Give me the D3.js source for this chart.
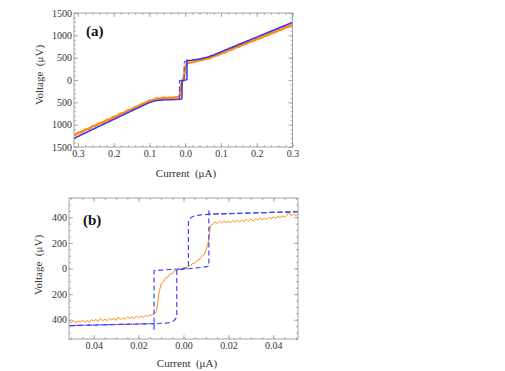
<!DOCTYPE html>
<html><head><meta charset="utf-8">
<script src="https://cdn.jsdelivr.net/npm/d3@7"></script>
<style>body{margin:0;background:#fff}svg{display:block}text{font-family:"Liberation Serif","Times New Roman",serif}</style>
</head><body>
<script>
// ---------- Panel (a) data ----------
const aXTicks = [-0.3,-0.2,-0.1,0,0.1,0.2,0.3];
const aXLabels = ["0.3","0.2","0.1","0.0","0.1","0.2","0.3"];
const aYTicks = [-1500,-1000,-500,0,500,1000,1500];
const aYLabels = ["1500","1000","500","0","500","1000","1500"];

// orange measured curve (a): outer left, inner, outer right  [current µA, voltage µV]
const aOrangeLeftI = [-0.31,-0.30,-0.29,-0.28,-0.27,-0.26,-0.25,-0.24,-0.23,-0.22,-0.21,-0.20,-0.19,-0.18,-0.17,-0.16,-0.15,-0.14,-0.13,-0.12,-0.11,-0.10,-0.09,-0.08,-0.07,-0.06];
const aOrangeLeftV = [-1238,-1188,-1166,-1115,-1094,-1043,-1021,-970,-949,-898,-877,-826,-804,-753,-731,-681,-659,-608,-586,-536,-513,-463,-449,-416,-419,-398];
const aOrangeInnerI = [-0.05,-0.045,-0.04,-0.035,-0.03,-0.025,-0.02,-0.017,-0.015,-0.013,-0.011,-0.009,-0.007,-0.005,-0.003,-0.001,0.001,0.003,0.005,0.01,0.015,0.02,0.025,0.03,0.035,0.04,0.045,0.05];
const aOrangeInnerV = [-408,-398,-405,-392,-400,-386,-394,-380,-340,-250,-110,-45,-20,10,90,200,300,355,372,385,392,405,410,425,432,445,450,460];
const aOrangeRightI = [0.06,0.07,0.08,0.09,0.10,0.11,0.12,0.13,0.14,0.15,0.16,0.17,0.18,0.19,0.20,0.21,0.22,0.23,0.24,0.25,0.26,0.27,0.28,0.29,0.30];
const aOrangeRightV = [484,494,535,553,600,618,664,682,728,746,793,811,857,875,921,939,985,1003,1049,1068,1114,1132,1178,1196,1240];

// simulated sweeps (a): solid = increasing current, dashed = decreasing current
const aBlueUp = [[-0.311,-1306],[-0.25,-1074],[-0.2,-884],[-0.15,-693],[-0.12,-579],[-0.105,-522],[-0.095,-490],[-0.085,-468],[-0.075,-455],[-0.06,-446],[-0.04,-440],[-0.025,-436],[-0.012,-430],[-0.010,-420],[-0.009,-400],[-0.009,-10],[0.0,-2],[0.004,8],[0.005,15],[0.005,460],[0.005,430],[0.02,445],[0.04,470],[0.06,505],[0.08,560],[0.1,630],[0.15,795],[0.2,960],[0.25,1125],[0.3,1290]];
const aBlueDown = [[0.3,1290],[0.25,1125],[0.2,960],[0.15,795],[0.1,630],[0.08,560],[0.06,505],[0.04,470],[0.02,445],[0.005,430],[0.0,420],[-0.002,400],[-0.003,380],[-0.003,5],[-0.01,-5],[-0.016,-12],[-0.016,-470],[-0.016,-432],[-0.025,-436],[-0.04,-440],[-0.06,-446],[-0.075,-455],[-0.085,-468],[-0.095,-490],[-0.105,-522],[-0.12,-579],[-0.15,-693],[-0.2,-884],[-0.25,-1074],[-0.311,-1306]];

// ---------- Panel (b) data ----------
const bXTicks = [-0.04,-0.02,0,0.02,0.04];
const bXLabels = ["0.04","0.02","0.00","0.02","0.04"];
const bYTicks = [-400,-200,0,200,400];
const bYLabels = ["400","200","0","200","400"];
const bOrangeStart = -0.051, bOrangeStep = 0.001;
const bOrangeV = [-412,-425,-407,-426,-408,-419,-401,-418,-406,-418,-398,-410,-398,-413,-391,-407,-396,-407,-388,-400,-390,-404,-379,-398,-385,-396,-379,-390,-378,-391,-370,-385,-372,-383,-365,-374,-361,-366,-348,-338,-200,-119,-105,-73,-68,-43,-42,-19,-20,-4,-7,8,4,20,17,39,41,64,67,94,104,140,200,335,344,362,353,368,355,371,359,370,357,376,362,376,364,377,366,384,372,384,372,388,378,395,380,393,383,400,389,402,390,409,396,411,401,414,441,410,424,413,426];
const bBlueUp = [[-0.051,-446],[-0.04,-441],[-0.03,-437],[-0.02,-433],[-0.013,-430],[-0.008,-426],[-0.006,-421],[-0.0045,-410],[-0.0035,-392],[-0.003,-380],[-0.003,-12],[0.002,-2],[0.006,5],[0.009,10],[0.0105,14],[0.0113,20],[0.0113,462],[0.0113,424],[0.02,428],[0.03,433],[0.04,438],[0.051,443]];
const bBlueDown = [[0.051,443],[0.04,438],[0.03,433],[0.02,428],[0.012,424],[0.008,419],[0.005,411],[0.0035,400],[0.0025,385],[0.0022,365],[0.0022,6],[0.0,0],[-0.004,-6],[-0.008,-10],[-0.011,-14],[-0.0131,-17],[-0.0131,-478],[-0.0131,-430],[-0.02,-433],[-0.03,-437],[-0.04,-441],[-0.051,-446]];

// ---------- drawing ----------
const svg = d3.select("body").append("svg").attr("width",505).attr("height",371);
const FRAME = "#9a9a9a", LABEL = "#333";
const ORANGE = "#ff8c1a", BLUE = "#2a2ae0", BLUE_D = "#4646f0";

function zip(I, V){ return I.map((d,i)=>[d, V[i]]); }

function panel(o){
  const x = d3.scaleLinear().domain(o.xd).range(o.xr);
  const y = d3.scaleLinear().domain(o.yd).range(o.yr);
  const g = svg.append("g");
  const clipId = "clip"+o.name;
  g.append("clipPath").attr("id",clipId).append("rect")
    .attr("x",o.xr[0]).attr("y",o.yr[1]).attr("width",o.xr[1]-o.xr[0]).attr("height",o.yr[0]-o.yr[1]);

  function ax(axis, tr){
    const a = g.append("g").attr("transform",tr).call(axis);
    a.select(".domain").remove();
    a.selectAll("line").attr("stroke",FRAME).attr("stroke-width",0.8);
    a.selectAll("text").attr("fill",LABEL).style("font-family",'"Liberation Serif",serif').style("font-size","10px");
    return a;
  }
  // minor ticks
  ax(d3.axisBottom(x).tickValues(o.xMinor).tickSizeInner(-2).tickSizeOuter(0).tickFormat(""), `translate(0,${o.yr[0]})`);
  ax(d3.axisTop(x).tickValues(o.xMinor).tickSizeInner(-2).tickSizeOuter(0).tickFormat(""), `translate(0,${o.yr[1]})`);
  ax(d3.axisLeft(y).tickValues(o.yMinor).tickSizeInner(-2).tickSizeOuter(0).tickFormat(""), `translate(${o.xr[0]},0)`);
  ax(d3.axisRight(y).tickValues(o.yMinor).tickSizeInner(-2).tickSizeOuter(0).tickFormat(""), `translate(${o.xr[1]},0)`);
  // major ticks
  ax(d3.axisBottom(x).tickValues(o.xTicks).tickSizeInner(-4).tickSizeOuter(0).tickPadding(3).tickFormat((d,i)=>o.xLabels[i]), `translate(0,${o.yr[0]})`);
  ax(d3.axisTop(x).tickValues(o.xTicks).tickSizeInner(-4).tickSizeOuter(0).tickFormat(""), `translate(0,${o.yr[1]})`);
  ax(d3.axisLeft(y).tickValues(o.yTicks).tickSizeInner(-4).tickSizeOuter(0).tickPadding(2).tickFormat((d,i)=>o.yLabels[i]), `translate(${o.xr[0]},0)`);
  ax(d3.axisRight(y).tickValues(o.yTicks).tickSizeInner(-4).tickSizeOuter(0).tickFormat(""), `translate(${o.xr[1]},0)`);

  const line = d3.line().x(d=>x(d[0])).y(d=>y(d[1]));
  const plot = g.append("g").attr("clip-path",`url(#${clipId})`);
  plot.append("path").datum(o.orange).attr("d",line).attr("fill","none")
    .attr("stroke",ORANGE).attr("stroke-width",o.orangeW).attr("stroke-linejoin","round");
  if (o.blueSolid) plot.append("path").datum(o.blueSolid).attr("d",line).attr("fill","none")
    .attr("stroke",BLUE).attr("stroke-width",1.4);
  o.blueDashed.forEach(dd=>{
    plot.append("path").datum(dd).attr("d",line).attr("fill","none")
      .attr("stroke",BLUE_D).attr("stroke-width",1.2).attr("stroke-dasharray","5,3");
  });

  g.append("rect").attr("x",o.xr[0]).attr("y",o.yr[1]).attr("width",o.xr[1]-o.xr[0]).attr("height",o.yr[0]-o.yr[1])
    .attr("fill","none").attr("stroke",FRAME).attr("stroke-width",0.9);

  g.append("text").attr("x",o.tag[0]).attr("y",o.tag[1]).text(o.name==="a"?"(a)":"(b)")
    .style("font-size","15px").style("font-weight","bold").attr("fill","#111");
  g.append("text").attr("x",o.xTitle[0]).attr("y",o.xTitle[1]).attr("text-anchor","middle")
    .style("font-size","11px").style("white-space","pre").attr("fill",LABEL).text("Current  (μA)");
  g.append("text").attr("transform",`translate(${o.yTitle[0]},${o.yTitle[1]}) rotate(-90)`).attr("dy","0.35em")
    .attr("text-anchor","middle").style("font-size","11px").style("white-space","pre").attr("fill",LABEL).text("Voltage  (μV)");
}

panel({
  name:"a", xd:[-0.311,0.3], yd:[-1500,1500], xr:[74,292.5], yr:[147,13],
  xTicks:aXTicks, xLabels:aXLabels, yTicks:aYTicks, yLabels:aYLabels,
  xMinor:d3.range(-15,16).map(k=>k*0.02), yMinor:d3.range(-15,16).map(k=>k*100),
  orange:[...zip(aOrangeLeftI,aOrangeLeftV),...zip(aOrangeInnerI,aOrangeInnerV),...zip(aOrangeRightI,aOrangeRightV)],
  orangeW:2.6, blueSolid:aBlueUp, blueDashed:[aBlueDown],
  tag:[86,36], xTitle:[186,176.5], yTitle:[39,75]
});
panel({
  name:"b", xd:[-0.051,0.051], yd:[-550,550], xr:[69,298], yr:[339,198],
  xTicks:bXTicks, xLabels:bXLabels, yTicks:bYTicks, yLabels:bYLabels,
  xMinor:d3.range(-10,11).map(k=>k*0.005), yMinor:d3.range(-11,12).map(k=>k*50),
  orange:bOrangeV.map((v,i)=>[bOrangeStart+i*bOrangeStep, v]),
  orangeW:1.0, blueSolid:null, blueDashed:[bBlueUp,bBlueDown],
  tag:[83,225], xTitle:[187,367], yTitle:[38,265]
});
</script>
</body></html>
